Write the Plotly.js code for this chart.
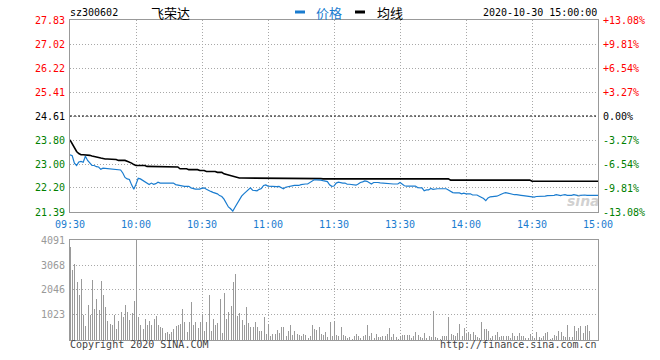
<!DOCTYPE html>
<html><head><meta charset="utf-8">
<script src="https://cdn.plot.ly/plotly-3.0.1.min.js"></script>
<style>html,body{margin:0;padding:0;background:#fff}#chart{width:660px;height:360px}</style>
</head><body><div id="chart"></div>
<script>
const prevClose = 24.61;
const priceTicks = [21.39, 22.20, 23.00, 23.80, 24.61, 25.41, 26.22, 27.02, 27.83];
const pctTicks = [-13.08, -9.81, -6.54, -3.27, 0, 3.27, 6.54, 9.81, 13.08];
const volTicks = [1023, 2046, 3068, 4091];
const timeTickIdx = [0, 30, 60, 90, 120, 150, 180, 210, 240];
const timeTickLabels = ['09:30', '10:00', '10:30', '11:00', '11:30', '13:30', '14:00', '14:30', '15:00'];

const price = [
23.31,23.28,23.03,22.95,23.07,23.09,23.06,23.26,23.12,23.02,
22.95,22.95,22.91,22.90,22.82,22.86,22.85,22.86,22.84,22.83,
22.83,22.82,22.81,22.80,22.70,22.55,22.50,22.48,22.30,22.15,
22.32,22.52,22.50,22.45,22.42,22.35,22.31,22.36,22.32,22.34,
22.39,22.36,22.36,22.36,22.36,22.36,22.36,22.36,22.31,22.29,
22.28,22.27,22.25,22.25,22.25,22.20,22.17,22.16,22.16,22.16,
22.19,22.20,22.15,22.10,22.08,22.05,22.03,22.00,21.94,21.91,
21.82,21.70,21.56,21.50,21.42,21.55,21.68,21.78,21.92,22.00,
22.07,22.15,22.20,22.12,22.10,22.10,22.15,22.18,22.28,22.30,
22.26,22.25,22.25,22.23,22.24,22.25,22.21,22.17,22.22,22.24,
22.25,22.26,22.28,22.28,22.28,22.31,22.33,22.33,22.33,22.38,
22.45,22.47,22.47,22.47,22.46,22.44,22.43,22.41,22.30,22.25,
22.26,22.36,22.39,22.37,22.36,22.36,22.32,22.32,22.31,22.30,
22.29,22.33,22.38,22.40,22.43,22.42,22.38,22.33,22.38,22.39,
22.38,22.37,22.36,22.36,22.35,22.33,22.33,22.33,22.33,22.33,
22.38,22.31,22.27,22.26,22.27,22.26,22.26,22.26,22.21,22.21,
22.20,22.10,22.13,22.13,22.18,22.15,22.17,22.17,22.17,22.17,
22.17,22.17,22.13,22.07,22.04,22.03,22.03,22.03,22.00,22.02,
22.00,22.00,22.00,21.96,21.97,21.96,21.92,21.88,21.84,21.77,
21.86,21.90,21.90,21.90,21.92,21.95,22.00,22.02,22.04,22.02,
22.00,21.98,21.97,21.97,21.97,21.95,21.94,21.93,21.92,21.91,
21.90,21.89,21.91,21.91,21.91,21.91,21.92,21.94,21.94,21.94,
21.95,21.97,21.95,21.94,21.96,21.97,21.95,21.94,21.95,21.97,
21.95,21.94,21.95,21.96,21.96,21.95,21.95,21.95,21.95,21.95,
21.95
];

const avgPrice = [
23.81,23.68,23.54,23.42,23.35,23.31,23.31,23.31,23.31,23.29,
23.27,23.26,23.24,23.22,23.20,23.18,23.17,23.17,23.17,23.17,
23.17,23.15,23.12,23.12,23.12,23.12,23.09,23.07,23.03,22.98,
22.95,22.95,22.95,22.95,22.95,22.92,22.92,22.92,22.92,22.90,
22.90,22.90,22.90,22.90,22.90,22.90,22.90,22.90,22.90,22.90,
22.84,22.84,22.84,22.84,22.81,22.81,22.81,22.81,22.81,22.78,
22.78,22.78,22.75,22.75,22.75,22.75,22.75,22.72,22.72,22.72,
22.67,22.65,22.62,22.59,22.57,22.56,22.54,22.53,22.53,22.53,
22.53,22.53,22.53,22.53,22.53,22.53,22.53,22.53,22.53,22.53,
22.53,22.53,22.53,22.53,22.53,22.51,22.51,22.51,22.51,22.51,
22.51,22.51,22.51,22.51,22.51,22.51,22.51,22.51,22.51,22.51,
22.51,22.51,22.51,22.51,22.51,22.50,22.50,22.50,22.50,22.50,
22.50,22.50,22.50,22.50,22.50,22.50,22.50,22.50,22.50,22.50,
22.50,22.50,22.50,22.50,22.50,22.50,22.50,22.50,22.50,22.50,
22.50,22.50,22.50,22.50,22.50,22.50,22.50,22.50,22.50,22.50,
22.50,22.50,22.50,22.50,22.50,22.50,22.50,22.50,22.50,22.50,
22.50,22.50,22.50,22.50,22.50,22.50,22.50,22.50,22.50,22.50,
22.50,22.50,22.50,22.46,22.46,22.46,22.46,22.46,22.46,22.46,
22.46,22.46,22.46,22.46,22.46,22.46,22.46,22.46,22.46,22.46,
22.46,22.46,22.46,22.46,22.46,22.46,22.46,22.46,22.46,22.46,
22.46,22.46,22.46,22.46,22.46,22.46,22.46,22.46,22.46,22.46,
22.42,22.42,22.42,22.42,22.42,22.42,22.42,22.42,22.42,22.42,
22.42,22.42,22.42,22.42,22.42,22.42,22.42,22.42,22.42,22.42,
22.42,22.42,22.42,22.42,22.42,22.42,22.42,22.42,22.42,22.42,
22.42
];

const volume = [
3789,2876,3121,2357,1853,2508,1035,556,1415,1035,
2440,1281,1690,1240,2399,1853,1335,790,667,627,
1035,463,763,1145,940,1415,1145,831,1104,1608,
4091,926,599,463,872,599,763,627,845,967,
599,545,490,286,327,259,327,463,556,627,
654,1281,736,327,736,1540,626,736,490,736,
1063,381,736,1826,354,872,599,695,1690,272,
1922,872,1145,1404,2372,2714,967,1104,831,599,
1336,695,517,517,722,517,354,354,926,259,
668,149,259,259,422,286,517,531,149,381,
626,218,354,259,218,149,259,218,82,177,
626,463,422,545,245,218,327,108,722,160,
790,218,149,517,218,177,82,108,55,149,
259,177,82,149,218,626,149,286,82,259,
108,122,149,177,259,490,108,259,108,55,
149,218,218,218,218,82,149,327,218,122,
82,286,82,177,108,1199,108,82,55,149,
177,149,953,259,190,149,286,668,177,490,
259,327,245,327,218,108,82,722,463,463,
381,82,149,218,327,108,177,177,177,177,
82,286,149,177,286,177,177,82,82,245,
149,82,327,108,82,149,286,327,55,82,
218,149,381,327,149,122,626,122,108,586,
381,490,586,286,586,626,381,0,0,0,
0
];

const minutes = price.map((_, i) => i);
const pct = price.map(p => (p / prevClose - 1) * 100);

const MONO = 'DejaVu Sans Mono, Liberation Mono, monospace';
const CJK = 'Noto Sans CJK SC, sans-serif';
const RED = '#ff0000', GREEN = '#008000', BLUE = '#1a7ccf';
const colorFor = v => (Math.abs(v) < 1e-9 ? '#000000' : (v > 0 ? RED : GREEN));

const leftText = priceTicks.map(v => '<span style="color:' + colorFor(Math.round((v - prevClose) * 100) / 100) + '">' + v.toFixed(2) + '</span>');
const rightText = pctTicks.map(v => '<span style="color:' + colorFor(v) + '">' + (v > 0 ? '+' : '') + v.toFixed(2) + '%</span>');

const traces = [
  {x: minutes, y: avgPrice, type: 'scatter', mode: 'lines', name: '均线',
   line: {color: '#000000', width: 1.6}, xaxis: 'x', yaxis: 'y', hoverinfo: 'skip'},
  {x: minutes, y: price, type: 'scatter', mode: 'lines', name: '价格',
   line: {color: BLUE, width: 1.2}, xaxis: 'x', yaxis: 'y', hoverinfo: 'skip'},
  {x: minutes, y: pct, type: 'scatter', mode: 'lines', name: 'pct',
   line: {color: 'rgba(0,0,0,0)', width: 0}, opacity: 0, xaxis: 'x', yaxis: 'y2', hoverinfo: 'skip'},
  {x: minutes, y: volume, type: 'bar', name: '成交量', width: 0.45, offset: 0,
   marker: {color: '#9a9a9a', line: {width: 0}}, xaxis: 'x2', yaxis: 'y3', hoverinfo: 'skip'}
];

const gridCol = '#a8a8a8';
const gridDash = '1px,2px';
const layout = {
  width: 660, height: 360,
  margin: {l: 70, r: 62, t: 20, b: 20},
  paper_bgcolor: '#ffffff', plot_bgcolor: '#ffffff',
  showlegend: false, hovermode: false, bargap: 0,
  font: {family: MONO, size: 10, color: '#000'},
  xaxis: {domain: [0, 1], anchor: 'y', range: [0, 240], tickmode: 'array',
    tickvals: timeTickIdx, ticktext: timeTickLabels, ticks: '', ticklabelstandoff: 3,
    tickfont: {family: MONO, size: 10, color: BLUE},
    showgrid: true, gridcolor: gridCol, griddash: gridDash, gridwidth: 1,
    showline: true, mirror: true, linecolor: '#999999', linewidth: 1, zeroline: false, fixedrange: true},
  yaxis: {domain: [0.4, 1], anchor: 'x', range: [21.39, 27.83], tickmode: 'array',
    tickvals: priceTicks, ticktext: leftText, ticks: '', ticklabelstandoff: 2,
    tickfont: {family: MONO, size: 10},
    showgrid: true, gridcolor: gridCol, griddash: gridDash, gridwidth: 1,
    showline: true, mirror: true, linecolor: '#999999', linewidth: 1, zeroline: false, fixedrange: true},
  yaxis2: {overlaying: 'y', side: 'right', anchor: 'x', range: [-13.08, 13.08], tickmode: 'array',
    tickvals: pctTicks, ticktext: rightText, ticks: '', ticklabelstandoff: 4,
    tickfont: {family: MONO, size: 10},
    showgrid: false, zeroline: false, showline: false, fixedrange: true},
  xaxis2: {domain: [0, 1], anchor: 'y3', range: [0, 240], tickmode: 'array',
    tickvals: timeTickIdx, showticklabels: false, ticks: '',
    showgrid: true, gridcolor: gridCol, griddash: gridDash, gridwidth: 1,
    showline: true, mirror: true, linecolor: '#999999', linewidth: 1, zeroline: false, fixedrange: true},
  yaxis3: {domain: [0, 0.3125], anchor: 'x2', range: [0, 4091], tickmode: 'array',
    tickvals: volTicks, ticktext: volTicks.map(String), ticks: '', ticklabelstandoff: 2,
    tickfont: {family: MONO, size: 10, color: '#999999'},
    showgrid: true, gridcolor: gridCol, griddash: gridDash, gridwidth: 1,
    showline: true, mirror: true, linecolor: '#999999', linewidth: 1, zeroline: false, fixedrange: true},
  shapes: [
    {type: 'line', xref: 'x', yref: 'y', x0: 0, x1: 240, y0: prevClose, y1: prevClose,
     line: {color: '#000000', width: 1, dash: '2px,2px'}},
    {type: 'rect', xref: 'paper', yref: 'paper', x0: 0.4261, x1: 0.4451, y0: 1.0203, y1: 1.0297,
     fillcolor: BLUE, line: {width: 0}},
    {type: 'rect', xref: 'paper', yref: 'paper', x0: 0.5398, x1: 0.5587, y0: 1.0203, y1: 1.0297,
     fillcolor: '#000000', line: {width: 0}}
  ],
  annotations: [
    {text: 'sz300602', xref: 'paper', yref: 'paper', x: -0.003, y: 1.0219, xanchor: 'left', yanchor: 'middle',
     showarrow: false, font: {family: MONO, size: 10, color: '#000'}},
    {text: '飞荣达', xref: 'paper', yref: 'paper', x: 0.149, y: 1.025, xanchor: 'left', yanchor: 'middle',
     showarrow: false, font: {family: CJK, size: 13, color: '#000'}},
    {text: '价格', xref: 'paper', yref: 'paper', x: 0.462, y: 1.025, xanchor: 'left', yanchor: 'middle',
     showarrow: false, font: {family: CJK, size: 13, color: BLUE}},
    {text: '均线', xref: 'paper', yref: 'paper', x: 0.577, y: 1.025, xanchor: 'left', yanchor: 'middle',
     showarrow: false, font: {family: CJK, size: 13, color: '#000'}},
    {text: '2020-10-30 15:00:00', xref: 'paper', yref: 'paper', x: 1.001, y: 1.0219, xanchor: 'right', yanchor: 'middle',
     showarrow: false, font: {family: MONO, size: 10, color: '#000'}},
    {text: 'Copyright 2020 SINA.COM', xref: 'paper', yref: 'paper', x: -0.003, y: -0.0156, xanchor: 'left', yanchor: 'middle',
     showarrow: false, font: {family: MONO, size: 10, color: '#444444'}},
    {text: 'http://finance.sina.com.cn', xref: 'paper', yref: 'paper', x: 1.002, y: -0.0156, xanchor: 'right', yanchor: 'middle',
     showarrow: false, font: {family: MONO, size: 10, color: '#444444'}},
    {text: '<b><i>sina</i></b>', xref: 'paper', yref: 'paper', x: 0.973, y: 0.435, xanchor: 'center', yanchor: 'middle',
     showarrow: false, font: {family: 'DejaVu Sans, sans-serif', size: 14, color: 'rgba(170,170,170,0.55)'}}
  ]
};

Plotly.newPlot('chart', traces, layout, {staticPlot: true, displayModeBar: false});
</script>
</body></html>
